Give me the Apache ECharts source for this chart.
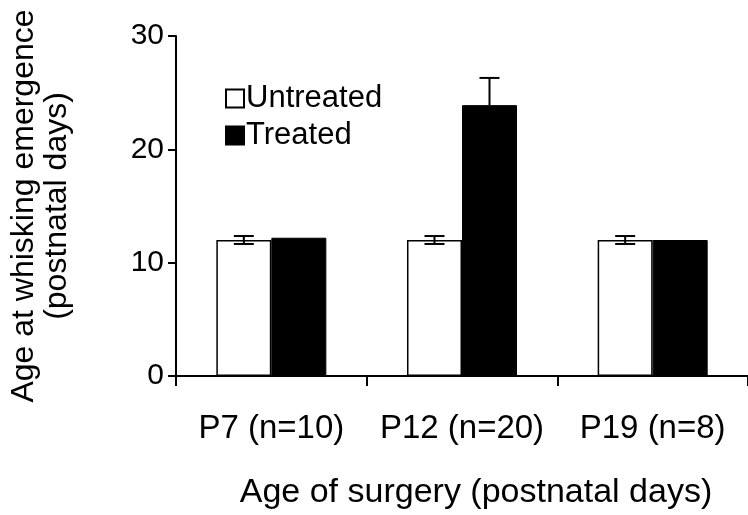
<!DOCTYPE html>
<html>
<head>
<meta charset="utf-8">
<script src="https://cdn.jsdelivr.net/npm/echarts@6/dist/echarts.min.js"></script>
<style>
  html, body { margin: 0; padding: 0; background: #fff; }
  #chart { width: 748px; height: 515px; }
</style>
</head>
<body>
<div id="chart"></div>
<script>
// data
const categories = ['P7 (n=10)', 'P12 (n=20)', 'P19 (n=8)']
const untreatedMean = [12.0, 12.0, 12.0]
const untreatedErr = [0.35, 0.35, 0.35]
const treatedMean = [12.2, 23.9, 12.0]
const treatedErr = [0, 2.4, 0]
const yTicks = [0, 10, 20, 30]

const FONT = '"Liberation Sans", Arial, Helvetica, sans-serif'
const BAR_W = 55
const CAP_W = 20

// error bar renderer, side = -1 for untreated (left), +1 for treated (right)
function errorBars(means, errs, side, twoSided) {
  return {
    type: 'custom',
    silent: true,
    z: 5,
    data: means.map((m, i) => [i, m, errs[i]]),
    renderItem(params, api) {
      const err = api.value(2)
      if (!err)
        return null
      const mean = api.value(1)
      const top = api.coord([api.value(0), mean + err])
      const bot = api.coord([api.value(0), twoSided ? mean - err : mean])
      const x = top[0] + side * BAR_W / 2
      const style = { stroke: '#000', lineWidth: 2 }
      const children = [
        { type: 'line', shape: { x1: x, y1: top[1], x2: x, y2: bot[1] }, style },
        { type: 'line', shape: { x1: x - CAP_W / 2, y1: top[1], x2: x + CAP_W / 2, y2: top[1] }, style },
      ]
      if (twoSided)
        children.push({ type: 'line', shape: { x1: x - CAP_W / 2, y1: bot[1], x2: x + CAP_W / 2, y2: bot[1] }, style })
      return { type: 'group', children }
    },
  }
}

const chart = echarts.init(document.getElementById('chart'), null, { renderer: 'canvas' })

chart.setOption({
  backgroundColor: '#fff',
  animation: false,
  textStyle: { fontFamily: FONT, color: '#000' },
  grid: { left: 172, right: -4, top: 36, bottom: 134, containLabel: false },
  legend: {
    orient: 'vertical',
    left: 220,
    top: 78,
    itemWidth: 18,
    itemHeight: 18,
    itemGap: 6,
    icon: 'rect',
    textStyle: { fontFamily: FONT, fontSize: 31, color: '#000', padding: [0, 0, 0, -3] },
    data: ['Untreated', 'Treated'],
  },
  xAxis: {
    type: 'category',
    data: categories,
    name: 'Age of surgery (postnatal days)',
    nameLocation: 'middle',
    nameGap: 100,
    nameTextStyle: { fontFamily: FONT, fontSize: 34, color: '#000', padding: [0, 0, 0, 28] },
    axisLine: { lineStyle: { color: '#000', width: 2 } },
    axisTick: { show: true, length: 10, interval: 0, lineStyle: { color: '#000', width: 2 } },
    axisLabel: { fontFamily: FONT, fontSize: 33, color: '#000', margin: 36, interval: 0 },
  },
  yAxis: {
    type: 'value',
    min: yTicks[0],
    max: yTicks[yTicks.length - 1],
    interval: 10,
    name: 'Age at whisking emergence\n(postnatal days)',
    nameLocation: 'middle',
    nameGap: 102,
    nameTextStyle: { fontFamily: FONT, fontSize: 32, color: '#000', lineHeight: 33, align: 'center' },
    axisLine: { show: true, lineStyle: { color: '#000', width: 2 } },
    axisTick: { show: true, length: 8, lineStyle: { color: '#000', width: 2 } },
    axisLabel: { fontFamily: FONT, fontSize: 30, color: '#000', margin: 12 },
    splitLine: { show: false },
  },
  series: [
    {
      name: 'Untreated',
      type: 'bar',
      data: untreatedMean,
      barWidth: BAR_W,
      barGap: '0%',
      itemStyle: { color: '#fff', borderColor: '#000', borderWidth: 1.5 },
    },
    {
      name: 'Treated',
      type: 'bar',
      data: treatedMean,
      barWidth: BAR_W,
      barGap: '0%',
      itemStyle: { color: '#000', borderColor: '#000', borderWidth: 1 },
    },
    errorBars(untreatedMean, untreatedErr, -1, true),
    errorBars(treatedMean, treatedErr, 1, false),
  ],
})
</script>
</body>
</html>
